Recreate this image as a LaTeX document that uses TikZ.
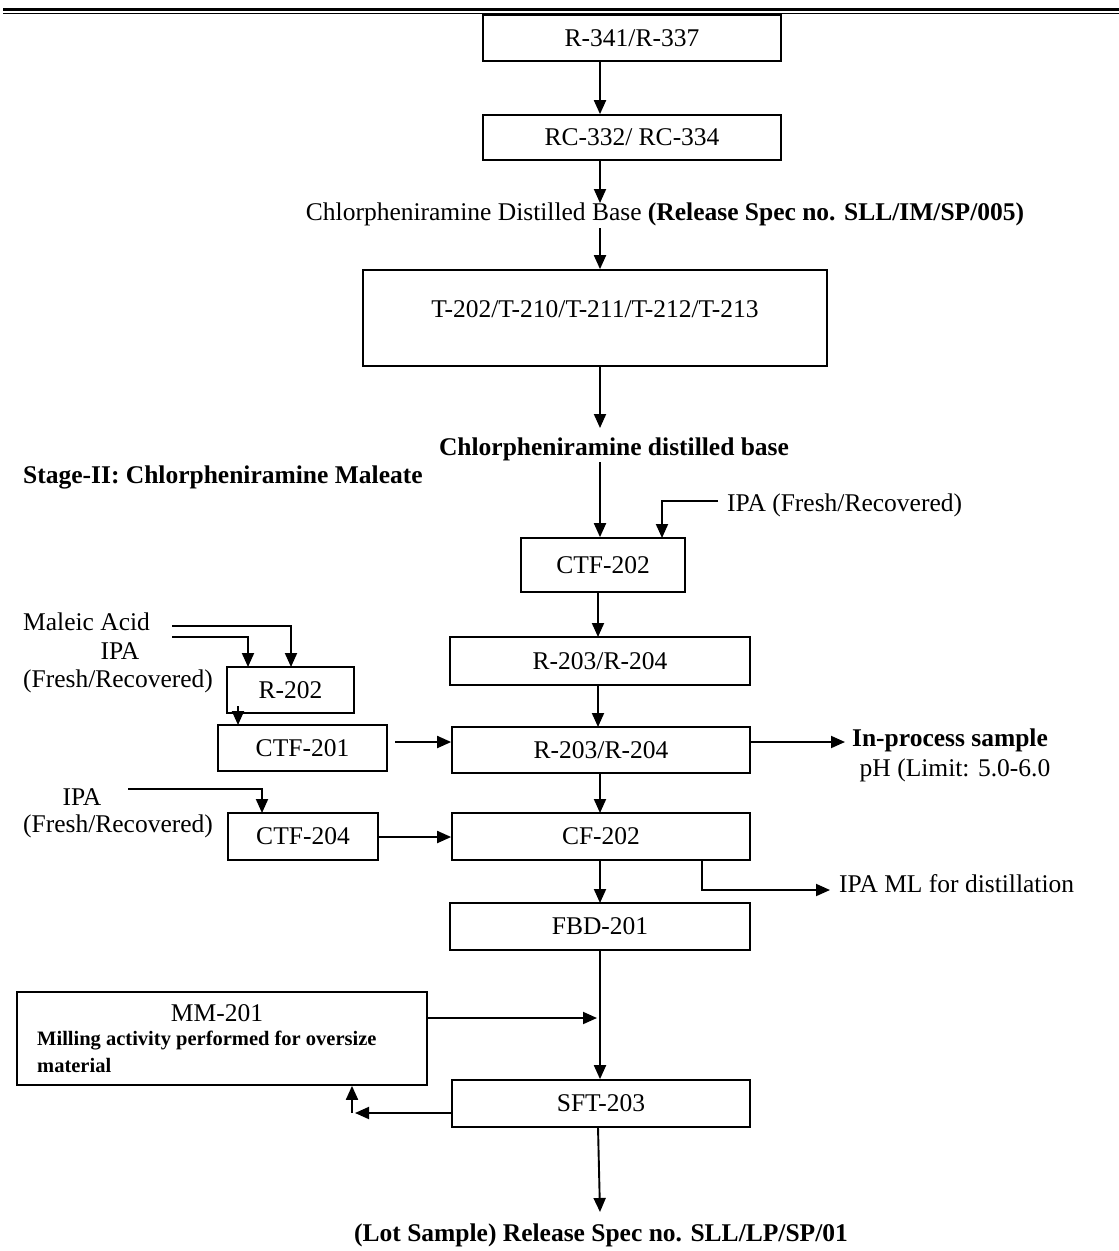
\documentclass[tikz,border=0pt]{standalone}
\usepackage{fontspec}
\setmainfont{Liberation Serif}
\usetikzlibrary{arrows.meta}
\begin{document}
\begin{tikzpicture}[x=1pt,y=-1pt,
  every node/.style={font=\fontsize{25.5}{29}\selectfont, inner sep=0pt},
  box/.style={draw, line width=1.7pt, rectangle},
  bl/.style={font=\fontsize{25.5}{29}\selectfont\bfseries},
  sm/.style={font=\fontsize{20.5}{24}\selectfont\bfseries},
  arr/.style={line width=1.9pt, -{Triangle[length=14pt,width=12pt]}}
]
\useasboundingbox (0,0) rectangle (1119,1251);
% top rule
\draw[line width=3pt] (3,9) -- (1119,9);
\draw[line width=1pt] (3,13) -- (1119,13);
\coordinate (c600) at (600,0);
% main column
\node[box, minimum width=298pt, minimum height=46pt] (b1) at (632,38) {R-341/R-337};
\node[box, minimum width=298pt, minimum height=45pt] (b2) at (632,137.5) {RC-332/ RC-334};
\node (t1) at (665,214) {Chlorpheniramine Distilled Base \textbf{(Release Spec no. SLL/IM/SP/005)}};
\node[box, minimum width=464pt, minimum height=96pt] (b3) at (595,318) {};
\node (t3) at (595,309) {T-202/T-210/T-211/T-212/T-213};
\node[bl] (t2) at (614,449) {Chlorpheniramine distilled base};
\node[bl, anchor=west] (stage) at (23,477) {Stage-II: Chlorpheniramine Maleate};
\node[box, minimum width=164pt, minimum height=54pt] (b4) at (603,565) {CTF-202};
\node[anchor=west] (ipa1) at (727,505) {IPA (Fresh/Recovered)};
\node[box, minimum width=300pt, minimum height=48pt] (b5) at (600,661) {R-203/R-204};
\node[box, minimum width=298pt, minimum height=46pt] (b6) at (601,750) {R-203/R-204};
\node[bl] (inp) at (950,740) {In-process sample};
\node (ph) at (955,770) {pH (Limit: 5.0-6.0};
\node[box, minimum width=298pt, minimum height=47pt] (b7) at (601,836.5) {CF-202};
\node[anchor=west] (ipaml) at (839,884) {IPA ML for distillation};
\node[box, minimum width=300pt, minimum height=47pt] (b8) at (600,926.5) {FBD-201};
\node[box, minimum width=410pt, minimum height=93pt] (b9) at (222,1038.5) {};
\node (mm) at (217,1013) {MM-201};
\node[sm, anchor=west] (mill1) at (37,1041) {Milling activity performed for oversize};
\node[sm, anchor=west] (mill2) at (37,1065) {material};
\node[box, minimum width=298pt, minimum height=47pt] (b10) at (601,1103.5) {SFT-203};
\node[bl] (lot) at (601,1235) {(Lot Sample) Release Spec no. SLL/LP/SP/01};
% left side
\node[anchor=west] (mal) at (23,622) {Maleic Acid};
\node (ipa2) at (120,651) {IPA};
\node (fr2) at (118,681) {(Fresh/Recovered)};
\node[box, minimum width=127pt, minimum height=46pt] (b11) at (290.5,690) {R-202};
\node[box, minimum width=169pt, minimum height=46pt] (b12) at (302.5,748) {CTF-201};
\node (ipa3) at (82,797) {IPA};
\node (fr3) at (118,826) {(Fresh/Recovered)};
\node[box, minimum width=150pt, minimum height=47pt] (b13) at (303,836.5) {CTF-204};
% coordinates
\coordinate (m1) at (172,626);
\coordinate (m2) at (172,637);
\coordinate (i3) at (128,789);
\coordinate (i1) at (718,501);
\coordinate (s1) at (355,1113);
\coordinate (s2) at (352,1113);
\coordinate (mmr) at (597,1018);
\coordinate (sp) at (845,742);
\coordinate (ml) at (830,890);
\coordinate (lt) at (600,1212);
% connectors main
\draw[arr] (b1.south -| c600) -- (b2.north -| c600);
\draw[arr] (b2.south -| c600) -- (600,203);
\draw[arr] (600,228) -- (b3.north -| c600);
\draw[arr] (b3.south -| c600) -- (600,428);
\draw[arr] (600,462) -- (b4.north -| c600);
\draw[arr] (i1) -| (662,538);
\draw[arr] (598,592) -- (598,637);
\draw[arr] (598,685) -- (598,727);
\draw[arr] (b6.east |- sp) -- (sp);
\draw[arr] (600,773) -- (600,813);
\draw[arr] (702,860) |- (ml);
\draw[arr] (600,860) -- (600,903);
\draw[arr] (b8.south -| c600) -- (b10.north -| c600);
\draw[arr] (b9.east |- mmr) -- (mmr);
\draw[arr] (b10.west |- s1) -- (s1);
\draw[arr] (s2) -- (b9.south -| s2);
\draw[arr] (598,1127) -- (lt);
% connectors left
\draw[arr] (m1) -| (291,667);
\draw[arr] (m2) -| (248,667);
\draw[arr] (238,706) -- (238,725);
\draw[arr] (395,742) -- (b6.west |- 0,742);
\draw[arr] (i3) -| (262,813);
\draw[arr] (b13.east |- 0,837) -- (b7.west |- 0,837);
\end{tikzpicture}
\end{document}
